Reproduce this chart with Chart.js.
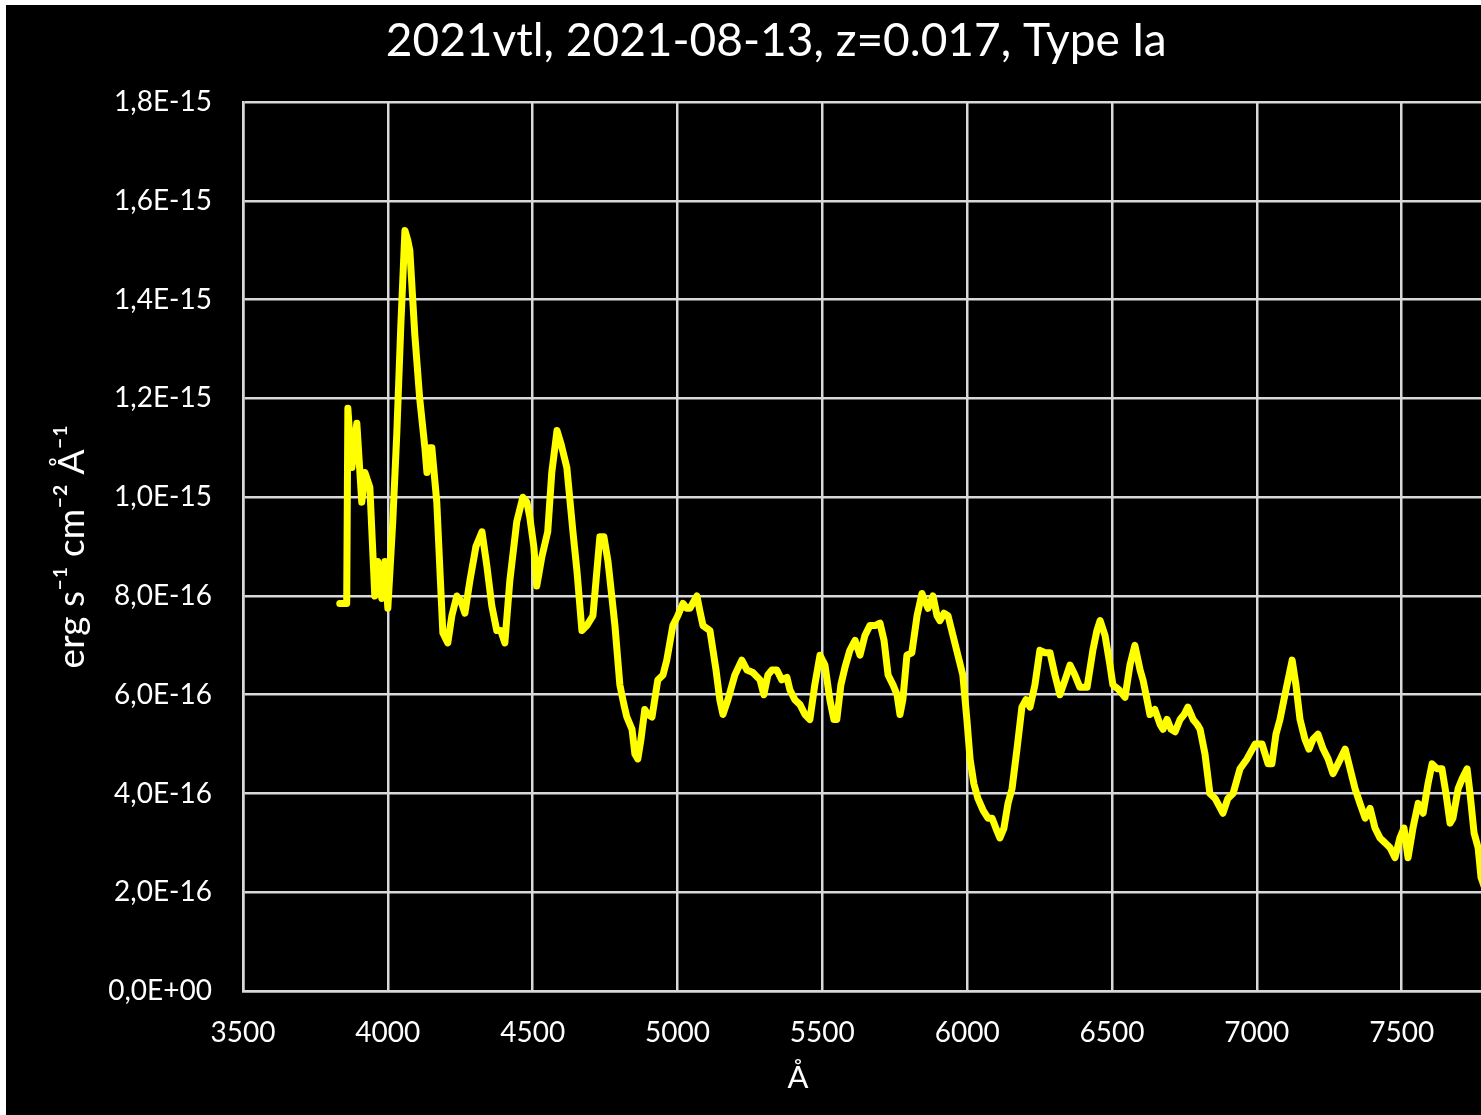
<!DOCTYPE html>
<html>
<head>
<meta charset="utf-8">
<script src="https://cdn.jsdelivr.net/npm/chart.js@4"></script>
<style>
  html, body {
    margin: 0;
    padding: 0;
    background: #ffffff;
    overflow: hidden;
  }
  #wrap {
    position: absolute;
    left: 6px;
    top: 5px;
    width: 1552px;
    height: 1110px;
    background: #000000;
  }
</style>
</head>
<body>
<div id="wrap">
  <canvas id="spectrum" width="1552" height="1110"></canvas>
</div>
<script>
// wavelength (Angstrom)
const wavelength = [
  3834, 3858, 3862, 3876, 3893, 3910, 3921, 3938, 3955, 3965, 3979, 3990, 4000, 4017,
  4031, 4045, 4059, 4069, 4076, 4093, 4110, 4128, 4135, 4145, 4152, 4169, 4180, 4190,
  4207, 4221, 4238, 4252, 4266, 4283, 4304, 4325, 4342, 4359, 4376, 4390, 4404, 4421,
  4445, 4466, 4480, 4490, 4504, 4514, 4532, 4552, 4566, 4584, 4597, 4618, 4639, 4653,
  4670, 4687, 4708, 4732, 4746, 4760, 4773, 4784, 4801, 4815, 4825, 4843, 4853, 4863,
  4874, 4887, 4898, 4912, 4932, 4950, 4963, 4984, 5001, 5019, 5032, 5043, 5057, 5067,
  5077, 5088, 5112, 5133, 5146, 5157, 5174, 5198, 5222, 5240, 5260, 5285, 5298, 5312,
  5326, 5343, 5360, 5378, 5388, 5405, 5423, 5440, 5457, 5474, 5492, 5509, 5526, 5540,
  5550, 5564, 5578, 5595, 5613, 5630, 5647, 5664, 5682, 5699, 5713, 5727, 5744, 5758,
  5768, 5778, 5792, 5809, 5827, 5844, 5854, 5865, 5882, 5896, 5906, 5920, 5934, 5951,
  5968, 5985, 5999, 6010, 6023, 6037, 6055, 6072, 6086, 6099, 6113, 6127, 6141, 6155,
  6172, 6189, 6203, 6217, 6234, 6251, 6269, 6286, 6303, 6320, 6338, 6355, 6372, 6389,
  6414, 6434, 6448, 6459, 6476, 6493, 6503, 6524, 6545, 6562, 6579, 6597, 6607, 6621,
  6631, 6648, 6666, 6676, 6690, 6704, 6718, 6735, 6749, 6762, 6780, 6794, 6804, 6821,
  6838, 6856, 6883, 6900, 6918, 6942, 6966, 6994, 7018, 7039, 7052, 7066, 7080, 7097,
  7122, 7135, 7149, 7166, 7180, 7194, 7211, 7229, 7246, 7263, 7280, 7305, 7322, 7339,
  7356, 7374, 7391, 7408, 7425, 7443, 7460, 7477, 7494, 7508, 7522, 7539, 7557, 7574,
  7591, 7605, 7622, 7639, 7653, 7667, 7677, 7695, 7709, 7726, 7736, 7750, 7764, 7774,
  7792
];

// flux in units of 1E-16 erg s-1 cm-2 A-1
const flux = [
  7.85, 7.85, 11.8, 10.6, 11.5, 9.9, 10.5, 10.2, 8.0, 8.7, 7.95, 8.7, 7.75, 9.5,
  11.3, 13.5, 15.4, 15.2, 15.0, 13.3, 12.0, 11.0, 10.5, 11.0, 11.0, 9.9, 8.5, 7.25,
  7.05, 7.6, 8.0, 7.9, 7.65, 8.3, 9.0, 9.3, 8.6, 7.8, 7.3, 7.3, 7.05, 8.3,
  9.5, 10.0, 9.9, 9.6, 9.0, 8.2, 8.8, 9.3, 10.5, 11.35, 11.1, 10.6, 9.3, 8.5,
  7.3, 7.4, 7.6, 9.2, 9.2, 8.7, 8.0, 7.4, 6.2, 5.8, 5.55, 5.3, 4.8, 4.7,
  5.1, 5.7, 5.6, 5.55, 6.3, 6.4, 6.7, 7.4, 7.6, 7.85, 7.75, 7.75, 7.9, 8.0,
  7.7, 7.4, 7.3, 6.5, 5.9, 5.6, 5.9, 6.4, 6.7, 6.5, 6.45, 6.3, 6.0, 6.4,
  6.5, 6.5, 6.3, 6.35, 6.1, 5.9, 5.8, 5.6, 5.5, 6.2, 6.8, 6.6, 5.9, 5.5,
  5.5, 6.2, 6.55, 6.9, 7.1, 6.8, 7.2, 7.4, 7.4, 7.45, 7.1, 6.4, 6.2, 6.0,
  5.6, 5.9, 6.8, 6.85, 7.6, 8.05, 7.9, 7.75, 8.0, 7.6, 7.5, 7.65, 7.6, 7.2,
  6.8, 6.4, 5.5, 4.7, 4.2, 3.9, 3.66, 3.5, 3.5, 3.3, 3.1, 3.3, 3.8, 4.1,
  4.9, 5.75, 5.9, 5.75, 6.2, 6.9, 6.85, 6.85, 6.4, 6.0, 6.3, 6.6, 6.4, 6.15,
  6.15, 6.9, 7.3, 7.5, 7.2, 6.6, 6.2, 6.1, 5.95, 6.6, 7.0, 6.5, 6.3, 5.9,
  5.6, 5.7, 5.4, 5.3, 5.5, 5.3, 5.25, 5.5, 5.6, 5.75, 5.5, 5.4, 5.3, 4.8,
  4.0, 3.9, 3.6, 3.9, 4.0, 4.5, 4.7, 5.0, 5.0, 4.6, 4.6, 5.2, 5.5, 6.0,
  6.7, 6.2, 5.5, 5.1, 4.9, 5.1, 5.2, 4.9, 4.7, 4.4, 4.6, 4.9, 4.5, 4.1,
  3.8, 3.5, 3.7, 3.3, 3.1, 3.0, 2.9, 2.7, 3.1, 3.3, 2.7, 3.3, 3.8, 3.6,
  4.2, 4.6, 4.5, 4.5, 4.0, 3.4, 3.5, 4.1, 4.3, 4.5, 4.0, 3.2, 2.9, 2.3,
  2.0
];

const xTicks = [3500, 4000, 4500, 5000, 5500, 6000, 6500, 7000, 7500, 8000];
const xTickLabels = ['3500', '4000', '4500', '5000', '5500', '6000', '6500', '7000', '7500', '8000'];
const yTicks = [0, 2, 4, 6, 8, 10, 12, 14, 16, 18];
const yTickLabels = [
  '0,0E+00', '2,0E-16', '4,0E-16', '6,0E-16', '8,0E-16',
  '1,0E-15', '1,2E-15', '1,4E-15', '1,6E-15', '1,8E-15'
];

const chartTitle = '2021vtl, 2021-08-13, z=0.017, Type Ia';
const xTitle = 'Å';
const yTitle = 'erg s⁻¹ cm⁻² Å⁻¹';

const fontFamily = 'Lato, "Open Sans", sans-serif';
const gridColor = '#d9d9d9';

const points = wavelength.map((w, i) => ({ x: w, y: flux[i] }));

// x axis title sits left of the plot centre, as in the original layout
const xTitlePlugin = {
  id: 'xTitle',
  afterDraw(chart) {
    const ctx = chart.ctx;
    ctx.save();
    ctx.fillStyle = '#ffffff';
    ctx.font = '31px ' + fontFamily;
    ctx.textAlign = 'center';
    ctx.textBaseline = 'middle';
    ctx.fillText(xTitle, chart.chartArea.left + 555, chart.chartArea.bottom + 87);
    ctx.restore();
  }
};

new Chart(document.getElementById('spectrum'), {
  type: 'line',
  data: {
    datasets: [{
      data: points,
      borderColor: '#ffff00',
      borderWidth: 7,
      pointRadius: 0,
      tension: 0,
      borderJoinStyle: 'round',
      borderCapStyle: 'round'
    }]
  },
  options: {
    responsive: false,
    animation: false,
    layout: {
      padding: { left: 0, right: 11.5, top: 0, bottom: 0 }
    },
    plugins: {
      legend: { display: false },
      tooltip: { enabled: false },
      title: {
        display: true,
        text: chartTitle,
        color: '#ffffff',
        font: { family: fontFamily, size: 46, weight: 'normal' },
        padding: { top: 9, bottom: 33 }
      }
    },
    scales: {
      x: {
        type: 'linear',
        min: 3500,
        max: 8000,
        afterBuildTicks: scale => {
          scale.ticks = xTicks.map(v => ({ value: v }));
        },
        afterFit: scale => {
          scale.height = 124;
          scale.paddingLeft = 0;
          scale.paddingRight = 0;
        },
        ticks: {
          color: '#ffffff',
          font: { family: fontFamily, size: 28 },
          padding: 25,
          maxRotation: 0,
          autoSkip: false,
          callback: (value, index) => xTickLabels[index]
        },
        grid: {
          color: gridColor,
          lineWidth: 2.5,
          drawTicks: false
        },
        border: { color: gridColor, width: 2.5 }
      },
      y: {
        min: 0,
        max: 18,
        afterBuildTicks: scale => {
          scale.ticks = yTicks.map(v => ({ value: v }));
        },
        afterFit: scale => {
          scale.width = 237;
        },
        ticks: {
          color: '#ffffff',
          font: { family: fontFamily, size: 28 },
          padding: 31,
          callback: (value, index) => yTickLabels[index]
        },
        grid: {
          color: gridColor,
          lineWidth: 2.5,
          drawTicks: false
        },
        border: { color: gridColor, width: 2.5 },
        title: {
          display: true,
          text: yTitle,
          color: '#ffffff',
          font: { family: fontFamily, size: 37 },
          padding: { top: 44, bottom: 0 }
        }
      }
    }
  },
  plugins: [xTitlePlugin]
});
</script>
</body>
</html>
